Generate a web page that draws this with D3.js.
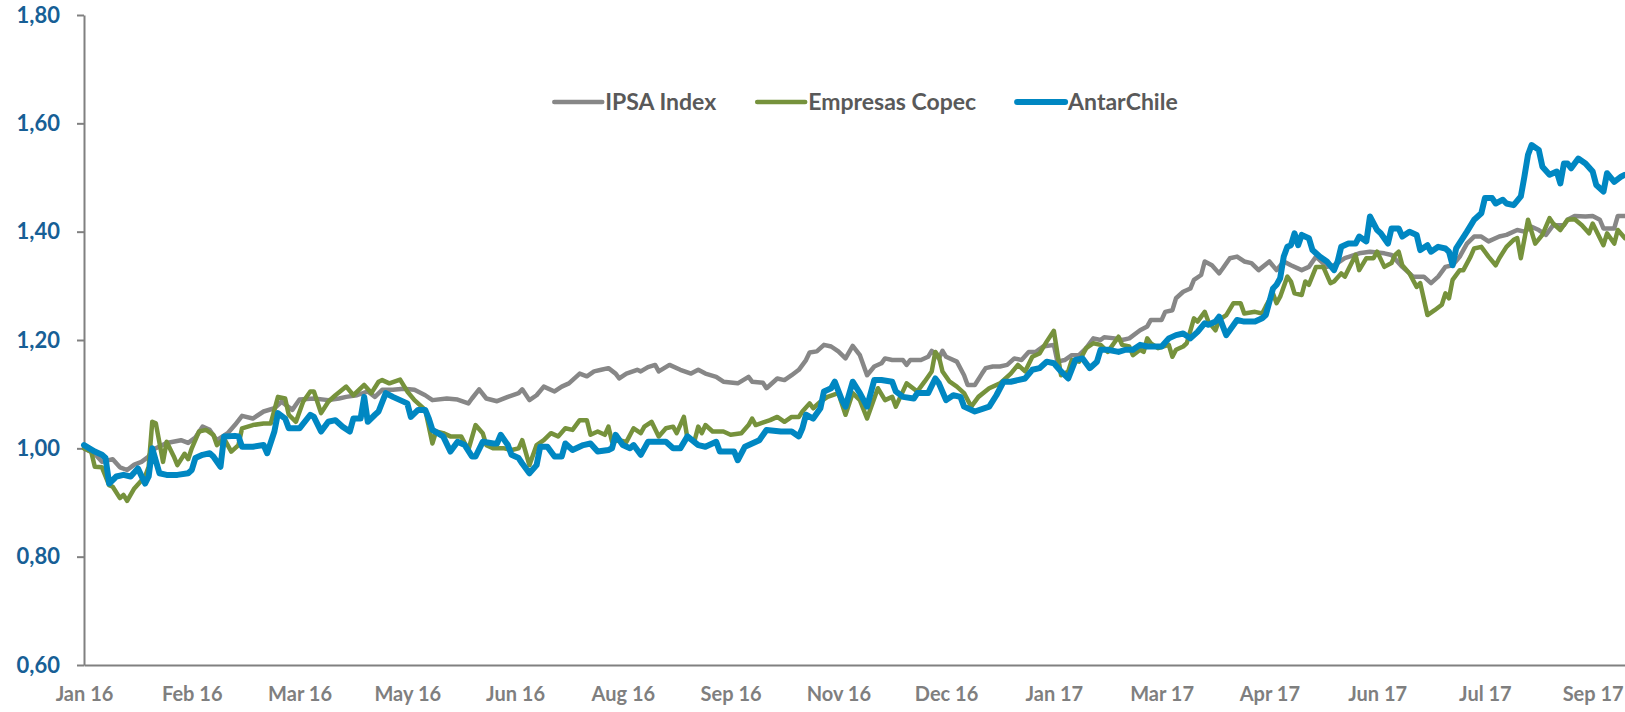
<!DOCTYPE html>
<html>
<head>
<meta charset="utf-8">
<title>IPSA vs Copec vs AntarChile</title>
<script src="https://cdn.jsdelivr.net/npm/d3@7"></script>
<style>
  body { margin: 0; background: #ffffff; }
  svg text { font-family: Lato, "Open Sans", sans-serif; font-weight: 700; }
</style>
</head>
<body>
<div id="chart"></div>
<script>
// trading-day index (0 = start of Jan 16) and normalised price (base 1,00)
var ipsa = [[0,1.000],[3,0.990],[5,0.975],[8,0.980],[10,0.965],[12,0.960],[14,0.970],[16,0.975],[18,0.985],[19,0.997],[23,1.010],[27,1.015],[29,1.010],[31,1.020],[33,1.040],[35,1.034],[37,1.015],[40,1.028],[42,1.043],[44,1.060],[47,1.055],[50,1.068],[53,1.074],[55,1.086],[58,1.071],[60,1.090],[64,1.092],[68,1.089],[71,1.092],[73,1.095],[76,1.098],[79,1.105],[81,1.095],[83,1.108],[86,1.108],[89,1.110],[92,1.108],[95,1.098],[97,1.089],[101,1.092],[104,1.090],[107,1.083],[108,1.092],[110,1.109],[112,1.092],[115,1.087],[118,1.095],[121,1.102],[122,1.109],[124,1.089],[126,1.098],[128,1.114],[131,1.105],[133,1.114],[135,1.120],[138,1.138],[140,1.133],[142,1.142],[144,1.145],[146,1.148],[148,1.138],[149,1.129],[151,1.138],[154,1.145],[155,1.142],[157,1.150],[159,1.154],[160,1.142],[163,1.154],[166,1.145],[169,1.138],[171,1.145],[173,1.138],[176,1.132],[178,1.123],[182,1.120],[185,1.132],[186,1.123],[189,1.121],[190,1.111],[193,1.129],[195,1.126],[197,1.135],[199,1.145],[201,1.163],[202,1.177],[204,1.179],[206,1.191],[208,1.188],[210,1.179],[212,1.166],[214,1.189],[216,1.172],[218,1.135],[220,1.151],[222,1.157],[223,1.166],[225,1.163],[228,1.163],[229,1.154],[230,1.163],[233,1.163],[235,1.169],[236,1.180],[238,1.166],[239,1.180],[240,1.169],[243,1.160],[245,1.135],[246,1.117],[248,1.117],[250,1.138],[251,1.148],[253,1.151],[255,1.151],[257,1.154],[259,1.166],[261,1.163],[263,1.178],[265,1.178],[267,1.188],[270,1.191],[271,1.160],[273,1.163],[275,1.172],[277,1.172],[279,1.185],[281,1.203],[283,1.200],[284,1.205],[287,1.203],[289,1.200],[291,1.203],[294,1.218],[296,1.225],[297,1.237],[300,1.237],[301,1.252],[303,1.255],[304,1.277],[306,1.289],[308,1.295],[309,1.311],[311,1.320],[312,1.345],[314,1.338],[316,1.323],[317,1.332],[319,1.351],[321,1.354],[323,1.345],[325,1.342],[327,1.329],[330,1.345],[332,1.329],[334,1.345],[336,1.338],[339,1.329],[341,1.335],[343,1.354],[346,1.335],[348,1.338],[351,1.351],[355,1.360],[358,1.363],[362,1.360],[364,1.357],[367,1.335],[370,1.317],[373,1.317],[375,1.305],[377,1.317],[379,1.335],[381,1.338],[383,1.354],[385,1.378],[387,1.391],[389,1.391],[391,1.382],[394,1.391],[396,1.394],[399,1.403],[401,1.400],[403,1.409],[405,1.403],[407,1.394],[409,1.412],[412,1.412],[413,1.422],[415,1.429],[418,1.428],[420,1.429],[422,1.422],[423,1.406],[426,1.406],[427,1.429],[429,1.429]];

var copec = [[0,1.000],[2,0.994],[3,0.966],[5,0.965],[7,0.932],[8,0.929],[10,0.908],[11,0.914],[12,0.903],[14,0.926],[17,0.948],[18,0.966],[19,1.049],[20,1.046],[22,0.975],[23,1.012],[25,0.985],[26,0.969],[28,0.990],[29,0.980],[30,1.000],[32,1.031],[34,1.034],[36,1.025],[37,1.006],[39,1.018],[41,0.994],[43,1.006],[44,1.037],[47,1.043],[50,1.046],[52,1.046],[54,1.095],[56,1.092],[57,1.062],[59,1.049],[61,1.086],[63,1.105],[64,1.105],[66,1.065],[68,1.086],[70,1.098],[73,1.114],[75,1.098],[78,1.117],[80,1.102],[82,1.123],[83,1.126],[85,1.120],[88,1.127],[90,1.105],[92,1.089],[95,1.071],[97,1.009],[98,1.031],[100,1.028],[102,1.022],[105,1.022],[107,0.997],[109,1.043],[111,1.028],[112,1.006],[114,1.000],[117,1.000],[119,0.997],[121,1.000],[122,1.015],[124,0.969],[126,1.006],[128,1.015],[130,1.028],[132,1.022],[134,1.037],[136,1.034],[138,1.052],[140,1.052],[141,1.025],[143,1.031],[145,1.025],[146,1.040],[147,1.012],[149,1.015],[151,1.012],[153,1.037],[155,1.028],[156,1.040],[158,1.049],[160,1.022],[162,1.037],[164,1.040],[165,1.028],[167,1.058],[168,1.018],[170,1.015],[171,1.040],[172,1.028],[173,1.043],[175,1.031],[178,1.031],[180,1.025],[183,1.028],[185,1.043],[186,1.055],[187,1.043],[191,1.052],[193,1.058],[195,1.049],[197,1.058],[199,1.058],[200,1.068],[202,1.083],[203,1.074],[205,1.086],[207,1.095],[210,1.102],[212,1.062],[214,1.102],[216,1.089],[218,1.055],[221,1.111],[223,1.089],[225,1.095],[226,1.077],[229,1.120],[232,1.105],[234,1.123],[236,1.142],[237,1.178],[238,1.169],[239,1.142],[241,1.123],[243,1.114],[245,1.102],[247,1.077],[249,1.095],[252,1.111],[255,1.120],[258,1.138],[260,1.154],[262,1.142],[264,1.169],[266,1.175],[268,1.197],[270,1.217],[271,1.175],[272,1.135],[274,1.142],[275,1.163],[277,1.160],[279,1.185],[281,1.194],[283,1.191],[285,1.178],[288,1.206],[289,1.191],[291,1.188],[292,1.172],[294,1.182],[295,1.178],[296,1.203],[297,1.194],[299,1.185],[302,1.191],[303,1.169],[304,1.182],[306,1.188],[307,1.194],[309,1.240],[310,1.234],[312,1.252],[313,1.234],[315,1.218],[316,1.237],[318,1.246],[320,1.268],[322,1.268],[323,1.249],[326,1.252],[328,1.249],[329,1.262],[331,1.286],[332,1.268],[333,1.280],[335,1.317],[336,1.308],[337,1.286],[339,1.283],[340,1.308],[341,1.302],[343,1.335],[345,1.335],[347,1.305],[348,1.308],[350,1.323],[351,1.317],[354,1.357],[355,1.329],[357,1.351],[359,1.351],[360,1.363],[362,1.335],[364,1.342],[365,1.357],[366,1.363],[367,1.338],[369,1.323],[371,1.298],[372,1.305],[374,1.246],[376,1.255],[378,1.265],[379,1.286],[380,1.277],[381,1.311],[383,1.329],[384,1.329],[386,1.354],[387,1.369],[389,1.372],[391,1.354],[393,1.338],[394,1.351],[396,1.372],[398,1.385],[399,1.388],[400,1.351],[402,1.422],[404,1.378],[406,1.394],[408,1.425],[409,1.415],[411,1.403],[413,1.422],[415,1.423],[417,1.412],[419,1.397],[420,1.415],[423,1.375],[424,1.397],[426,1.378],[427,1.403],[429,1.388]];

var antar = [[0,1.006],[3,0.994],[5,0.988],[6,0.982],[7,0.935],[9,0.948],[11,0.951],[13,0.948],[15,0.963],[17,0.935],[18,0.948],[19,1.000],[21,0.954],[23,0.951],[26,0.951],[29,0.954],[30,0.960],[31,0.982],[33,0.988],[35,0.991],[36,0.985],[38,0.966],[39,1.022],[42,1.023],[43,1.022],[44,1.003],[47,1.003],[50,1.006],[51,0.991],[53,1.031],[54,1.065],[56,1.055],[57,1.037],[60,1.037],[63,1.062],[64,1.058],[66,1.031],[68,1.049],[70,1.052],[72,1.040],[74,1.031],[75,1.055],[77,1.055],[78,1.095],[79,1.049],[81,1.062],[82,1.068],[84,1.102],[86,1.095],[88,1.089],[90,1.083],[91,1.058],[93,1.071],[95,1.071],[96,1.055],[97,1.034],[100,1.022],[102,0.994],[104,1.012],[106,1.006],[108,0.985],[109,0.985],[111,1.012],[114,1.009],[115,1.009],[116,1.025],[118,1.006],[119,0.988],[121,0.982],[122,0.972],[124,0.954],[126,0.969],[127,1.003],[129,1.003],[131,0.985],[133,0.985],[134,1.009],[136,0.997],[139,1.006],[141,1.009],[143,0.994],[146,0.997],[147,1.000],[148,1.025],[150,1.006],[152,1.000],[153,1.006],[155,0.988],[157,1.012],[162,1.012],[164,1.000],[166,1.000],[168,1.022],[171,1.006],[173,1.003],[176,1.012],[177,0.994],[181,0.994],[182,0.978],[184,1.003],[186,1.009],[188,1.015],[190,1.034],[194,1.031],[197,1.031],[199,1.022],[200,1.037],[201,1.062],[203,1.055],[205,1.074],[206,1.105],[208,1.111],[209,1.123],[211,1.089],[212,1.077],[214,1.123],[216,1.102],[218,1.077],[220,1.126],[222,1.126],[225,1.123],[226,1.105],[228,1.095],[231,1.092],[232,1.102],[235,1.102],[237,1.129],[238,1.120],[240,1.089],[242,1.098],[244,1.095],[245,1.077],[248,1.068],[252,1.077],[254,1.098],[256,1.123],[258,1.123],[262,1.129],[264,1.145],[266,1.148],[268,1.160],[270,1.157],[272,1.142],[274,1.129],[276,1.163],[278,1.166],[280,1.148],[282,1.160],[283,1.182],[285,1.182],[288,1.178],[290,1.182],[292,1.182],[294,1.191],[296,1.188],[300,1.188],[302,1.203],[304,1.209],[306,1.212],[308,1.203],[310,1.215],[312,1.231],[313,1.228],[315,1.234],[316,1.243],[318,1.209],[321,1.237],[323,1.234],[326,1.234],[328,1.240],[329,1.246],[331,1.295],[332,1.302],[333,1.314],[334,1.354],[335,1.372],[336,1.375],[337,1.397],[338,1.375],[339,1.394],[341,1.388],[342,1.366],[344,1.354],[346,1.345],[348,1.329],[349,1.345],[350,1.372],[352,1.378],[354,1.378],[355,1.391],[357,1.382],[358,1.428],[360,1.403],[361,1.397],[363,1.378],[364,1.406],[366,1.406],[367,1.391],[369,1.400],[371,1.394],[372,1.366],[374,1.375],[375,1.363],[377,1.372],[379,1.369],[380,1.363],[381,1.338],[382,1.369],[385,1.400],[387,1.422],[388,1.428],[389,1.434],[390,1.462],[392,1.462],[393,1.452],[395,1.459],[396,1.452],[398,1.449],[400,1.465],[401,1.502],[402,1.542],[403,1.560],[405,1.551],[406,1.520],[408,1.505],[410,1.511],[411,1.489],[412,1.526],[413,1.526],[414,1.517],[416,1.535],[418,1.526],[420,1.511],[421,1.486],[423,1.474],[424,1.508],[426,1.492],[428,1.502],[429,1.505]];

var seriesNames = ["IPSA Index", "Empresas Copec", "AntarChile"];
var xTickDays = [0, 30, 60, 90, 120, 150, 180, 210, 240, 270, 300, 330, 360, 390, 420];
var xTickLabels = ["Jan 16", "Feb 16", "Mar 16", "May 16", "Jun 16", "Aug 16", "Sep 16", "Nov 16", "Dec 16", "Jan 17", "Mar 17", "Apr 17", "Jun 17", "Jul 17", "Sep 17"];
var yTicks = [0.6, 0.8, 1.0, 1.2, 1.4, 1.6, 1.8];

(function() {
    var width = 1625, height = 712;
    var m = {left: 84, right: 1625, top: 15, bottom: 665};
    var colors = ["#878787", "#76923c", "#0087c2"];
    var widths = [4.5, 4.5, 6];

    var svg = d3.select("#chart").append("svg")
        .attr("width", width)
        .attr("height", height);

    var x = d3.scaleLinear().domain([0, 429]).range([m.left, m.right]);
    var y = d3.scaleLinear().domain([0.6, 1.8]).range([m.bottom, m.top]);

    var comma = d3.formatLocale({decimal: ",", thousands: ".", grouping: [3], currency: ["", ""]}).format(".2f");

    // y axis
    var yAxis = svg.append("g")
        .attr("transform", "translate(" + m.left + ",0)")
        .call(d3.axisLeft(y).tickValues(yTicks).tickFormat(comma).tickSize(7).tickSizeOuter(0).tickPadding(17));
    yAxis.select(".domain").attr("stroke", "#808080").attr("stroke-width", 2);
    yAxis.selectAll(".tick line").attr("stroke", "#808080").attr("stroke-width", 2);
    yAxis.selectAll(".tick text")
        .attr("fill", "#175f96")
        .style("font-size", "22px");

    // x axis
    var xAxis = svg.append("g")
        .attr("transform", "translate(0," + m.bottom + ")")
        .call(d3.axisBottom(x).tickValues(xTickDays)
            .tickFormat(function(d, i) { return xTickLabels[i]; })
            .tickSize(0).tickPadding(22));
    xAxis.select(".domain").attr("stroke", "#808080").attr("stroke-width", 2);
    xAxis.selectAll(".tick text")
        .attr("fill", "#7f7f7f")
        .style("font-size", "20px");

    // lines
    var line = d3.line()
        .x(function(d) { return x(d[0]); })
        .y(function(d) { return y(d[1]); });

    [ipsa, copec, antar].forEach(function(s, i) {
        svg.append("path")
            .datum(s)
            .attr("fill", "none")
            .attr("stroke", colors[i])
            .attr("stroke-width", widths[i])
            .attr("stroke-linejoin", "round")
            .attr("stroke-linecap", "round")
            .attr("d", line);
    });

    // legend
    var gap = 41;
    var legend = svg.append("g");
    var cursor = 0;
    seriesNames.forEach(function(name, i) {
        var g = legend.append("g").attr("transform", "translate(" + cursor + ",0)");
        g.append("line")
            .attr("x1", 0).attr("x2", 48)
            .attr("y1", 0).attr("y2", 0)
            .attr("stroke", colors[i])
            .attr("stroke-width", widths[i])
            .attr("stroke-linecap", "round");
        var t = g.append("text")
            .attr("x", 51)
            .attr("dy", "0.35em")
            .attr("fill", "#595959")
            .style("font-size", "23px")
            .text(name);
        cursor += 51 + t.node().getComputedTextLength() + gap;
    });
    var legendWidth = cursor - gap;
    legend.attr("transform", "translate(" + (866 - legendWidth / 2) + ",102)");
})();
</script>
</body>
</html>
